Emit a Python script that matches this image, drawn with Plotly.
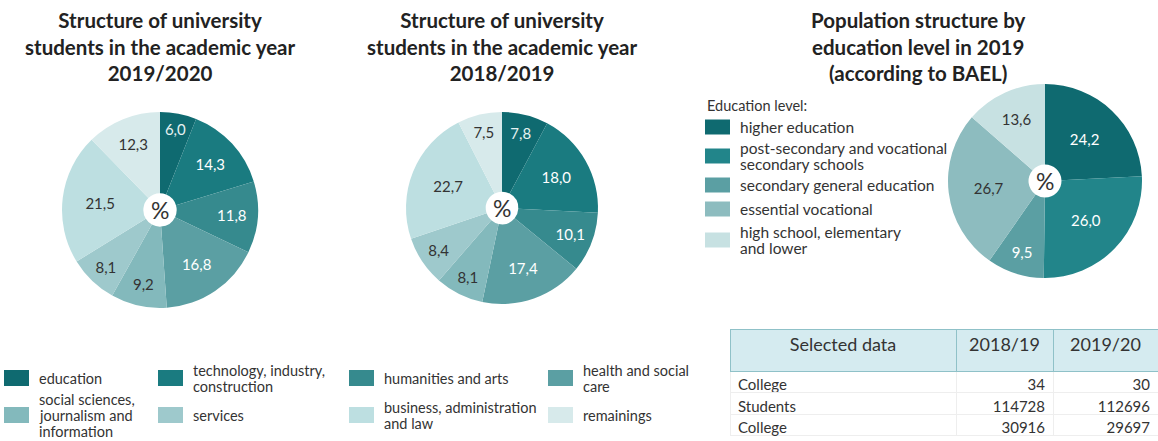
import plotly.graph_objects as go

# ---- data -------------------------------------------------------------
fields = ["education", "technology, industry,\nconstruction", "humanities and arts",
          "health and social\ncare", "social sciences,\njournalism and\ninformation",
          "services", "business, administration\nand law", "remainings"]
share_2019_20 = [6.0, 14.3, 11.8, 16.8, 9.2, 8.1, 21.5, 12.3]
share_2018_19 = [7.8, 18.0, 10.1, 17.4, 8.1, 8.4, 22.7, 7.5]

edu_levels = ["higher education", "post-secondary and vocational\nsecondary schools",
              "secondary general education", "essential vocational",
              "high school, elementary\nand lower"]
edu_share_2019 = [24.2, 26.0, 9.5, 26.7, 13.6]

table_header = ["Selected data", "2018/19", "2019/20"]
table_rows = ["College", "Students", "College"]
table_2018_19 = [34, 114728, 30916]
table_2019_20 = [30, 112696, 29697]

titles = ["Structure of university\nstudents in the academic year\n2019/2020",
          "Structure of university\nstudents in the academic year\n2018/2019",
          "Population structure by\neducation level in 2019\n(according to BAEL)"]

# ---- styling ----------------------------------------------------------
W, H = 1158, 441
FONT = "Lato"
field_colors = ["#0f6a70", "#1a7b80", "#368a8e", "#5b9fa3",
                "#83b9bc", "#9ec9cc", "#bddfe1", "#d7eaeb"]
field_text = ["#e6f2f2", "#ffffff", "#ffffff", "#ffffff",
              "#333333", "#333333", "#333333", "#333333"]
edu_colors = ["#0f6a70", "#22858a", "#5b9fa3", "#8dbcbf", "#c7e1e2"]
edu_text = ["#ffffff", "#ffffff", "#ffffff", "#333333", "#333333"]


def px(x):
    return x / W


def py(y):
    return 1 - y / H


def dom(cx, cy, r):
    return dict(x=[px(cx - r), px(cx + r)], y=[py(cy + r), py(cy - r)])


fig = go.Figure()


def add_pie(values, colors, tcolors, domain):
    fig.add_trace(go.Pie(
        values=values, sort=False, direction="clockwise", rotation=0,
        hole=0.17, domain=domain,
        marker=dict(colors=colors, line=dict(width=0)),
        texttemplate="%{value:.1f}", textposition="inside",
        insidetextorientation="horizontal",
        textfont=dict(family=FONT, size=15, color=tcolors),
        showlegend=False, hoverinfo="skip"))


add_pie(share_2019_20, field_colors, field_text, dom(160, 210, 98))
add_pie(share_2018_19, field_colors, field_text, dom(502, 208, 96))
add_pie(edu_share_2019, edu_colors, edu_text, dom(1045, 181, 97))

annotations = []
shapes = []


def text_block(label, x, cy, size, lh, anchor="left", color="#333333", bold=False):
    lines = label.split("\n")
    top = cy - lh * (len(lines) - 1) / 2
    for k, line in enumerate(lines):
        annotations.append(dict(
            x=px(x), y=py(top + k * lh), xref="paper", yref="paper",
            text=f"<b>{line}</b>" if bold else line, showarrow=False,
            xanchor=anchor, yanchor="middle",
            font=dict(family=FONT, size=size, color=color)))


# titles (one multi-line text each)
for t, cx in zip(titles, [160, 502, 918]):
    annotations.append(dict(
        x=px(cx), y=py(46), xref="paper", yref="paper",
        text="<b>" + t.replace("\n", "<br>") + "</b>", showarrow=False,
        xanchor="center", yanchor="middle", align="center",
        font=dict(family=FONT, size=20.5, color="#222222")))

# "%" in pie centres
for cx, cy in [(160, 210), (502, 208), (1045, 181)]:
    annotations.append(dict(x=px(cx), y=py(cy), xref="paper", yref="paper",
                            text="%", showarrow=False, xanchor="center", yanchor="middle",
                            font=dict(family=FONT, size=23, color="#333333")))

# field legend: 4 columns x 2 rows
col_x = [4, 158, 349, 548]
row_y = [378, 415]
for i, (lab, col) in enumerate(zip(fields, field_colors)):
    x0 = col_x[i % 4]
    cy = row_y[i // 4]
    shapes.append(dict(type="rect", xref="paper", yref="paper",
                       x0=px(x0), x1=px(x0 + 25), y0=py(cy + 8), y1=py(cy - 8),
                       fillcolor=col, line=dict(width=0)))
    text_block(lab, x0 + 33, cy, 14.5, 16)

# education level legend
text_block("Education level:", 705, 106, 14.5, 16)
item_y = [127, 156, 185, 209, 240]
for lab, col, cy in zip(edu_levels, edu_colors, item_y):
    shapes.append(dict(type="rect", xref="paper", yref="paper",
                       x0=px(705), x1=px(730), y0=py(cy + 7.5), y1=py(cy - 7.5),
                       fillcolor=col, line=dict(width=0)))
    text_block(lab, 738, cy, 15.5, 16.5)

# selected data table
fig.add_trace(go.Table(
    domain=dict(x=[px(730), 1.0], y=[0, py(329)]),
    columnwidth=[226, 97, 105],
    header=dict(values=table_header, height=42,
                fill_color="#d5ebf0", line=dict(color="#8fc1c8", width=1),
                align=["center", "center", "center"],
                font=dict(family=FONT, size=18, color="#333333")),
    cells=dict(values=[table_rows, table_2018_19, table_2019_20], height=21.5,
               format=["", "d", "d"],
               fill_color="white", line=dict(color="#eeeeee", width=1),
               align=["left", "right", "right"],
               font=dict(family=FONT, size=15, color="#333333"))))

fig.update_layout(
    width=W, height=H, autosize=False,
    margin=dict(l=0, r=0, t=0, b=0),
    paper_bgcolor="white", plot_bgcolor="white",
    separators=", ",
    annotations=annotations, shapes=shapes,
)

fig.write_html("out.html")
